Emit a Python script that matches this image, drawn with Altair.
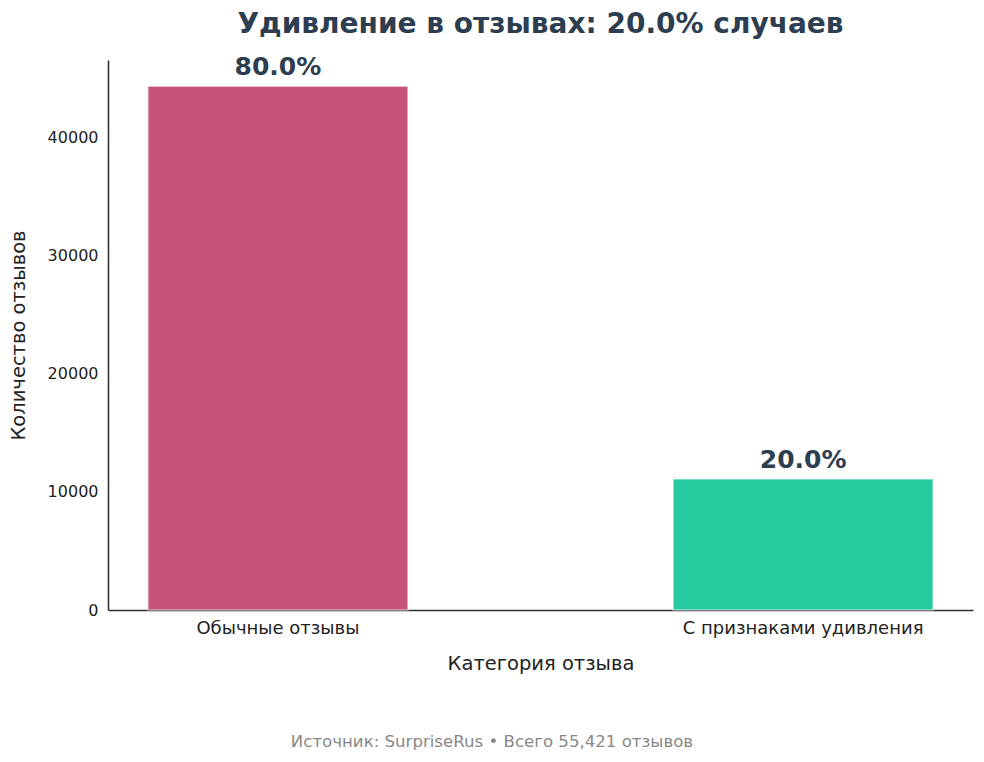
import pandas as pd
import altair as alt

# Data
categories = ['Обычные отзывы', 'С признаками удивления']
counts = [44337, 11084]
shares = ['80.0%', '20.0%']
colors = ['#c5537a', '#26cca0']
total = 55421

df = pd.DataFrame({'Категория': categories, 'Количество': counts, 'Доля': shares})

font = 'DejaVu Sans'
W, H = 865, 550

x_enc = alt.X('Категория:N', sort=categories, title='Категория отзыва',
              scale=alt.Scale(paddingInner=0.505, paddingOuter=0.076),
              axis=alt.Axis(labelAngle=0, labelFontSize=18, labelColor='#222222',
                            labelPadding=9, labelLimit=0, titleFontSize=19.5,
                            titleColor='#222222', titlePadding=17, titleFontWeight='normal',
                            ticks=False, domainColor='#333333', domainWidth=1.6, grid=False))
y_enc = alt.Y('Количество:Q', title='Количество отзывов',
              scale=alt.Scale(domain=[0, 46554], nice=False),
              axis=alt.Axis(values=[0, 10000, 20000, 30000, 40000], format='d',
                            labelFontSize=16, labelColor='#222222', labelPadding=10,
                            titleFontSize=19.5, titleColor='#222222', titlePadding=19,
                            titleFontWeight='normal', ticks=False,
                            domainColor='#333333', domainWidth=1.6, grid=False))

bars = alt.Chart(df).mark_bar(stroke='white', strokeWidth=1.5, strokeOpacity=0.5).encode(
    x=x_enc,
    y=y_enc,
    color=alt.Color('Категория:N', scale=alt.Scale(domain=categories, range=colors), legend=None),
)

labels = alt.Chart(df).mark_text(font=font, fontSize=25, fontWeight='bold', color='#2c3e50',
                                 baseline='bottom', dy=-6).encode(
    x=alt.X('Категория:N', sort=categories),
    y=alt.Y('Количество:Q'),
    text='Доля:N',
)

source = alt.Chart(pd.DataFrame({'t': [f'Источник: SurpriseRus • Всего {total:,} отзывов']})).mark_text(
    font=font, fontSize=16.6, color='#888888', baseline='middle', align='center'
).encode(
    x=alt.value(384), y=alt.value(682), text='t:N'
)

chart = alt.layer(bars, labels, source).properties(
    width=W, height=H,
    autosize=alt.AutoSizeParams(type='none'),
    padding={'left': 100, 'top': 52, 'right': 3, 'bottom': 140},
    title=alt.TitleParams('Удивление в отзывах: 20.0% случаев', font=font, fontSize=28,
                          fontWeight='bold', color='#2c3e50', anchor='middle', offset=16),
).configure(font=font).configure_view(strokeWidth=0)

chart.save('out.html', embed_options={'renderer': 'svg', 'actions': False})
